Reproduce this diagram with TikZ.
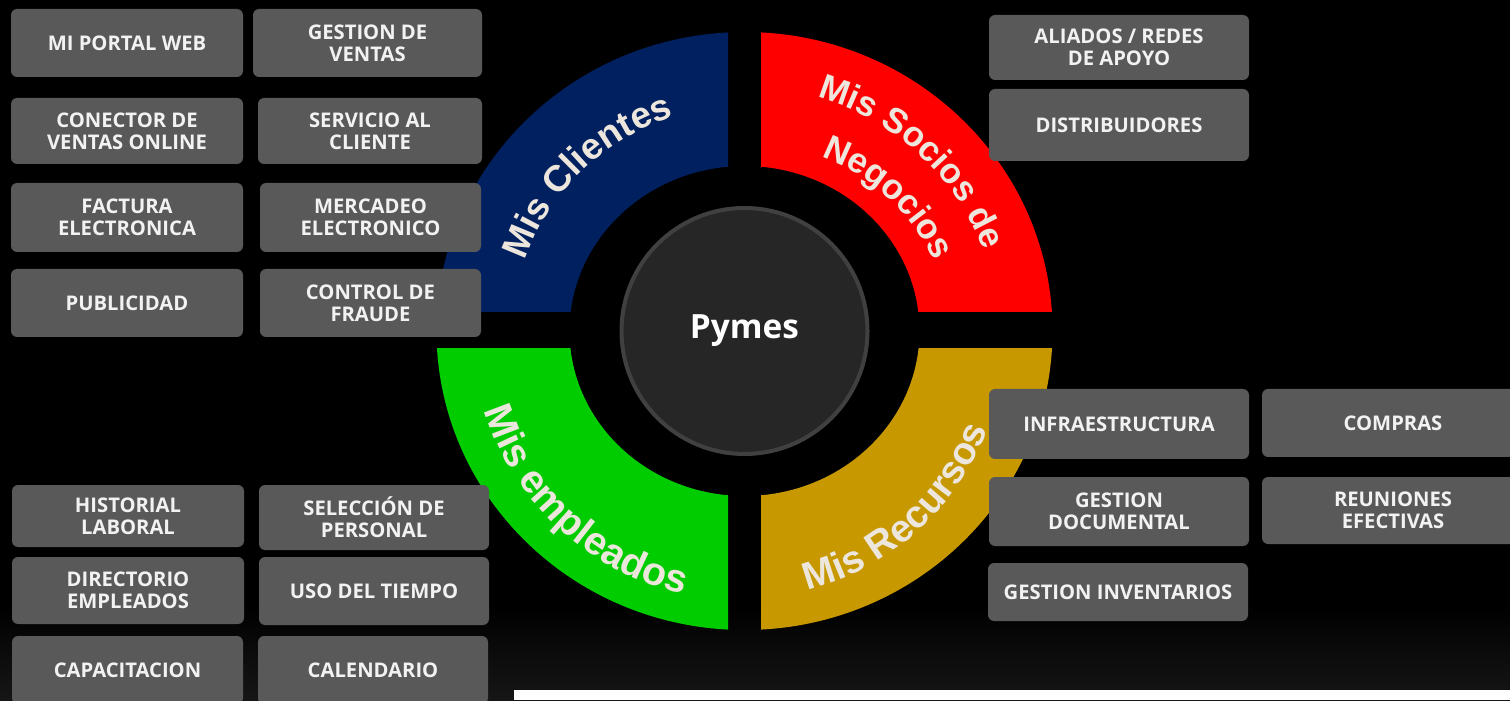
\documentclass[tikz,border=0pt]{standalone}
\usepackage{fontspec}
\setmainfont{Open Sans}
\newfontfamily\ringfam{Liberation Sans}
\usetikzlibrary{decorations.text}

\definecolor{tileGray}{RGB}{89,89,89}
\definecolor{hubGray}{RGB}{38,38,38}
\definecolor{hubRim}{RGB}{64,64,64}
\definecolor{qBlue}{RGB}{0,32,96}
\definecolor{qRed}{RGB}{255,0,0}
\definecolor{qGreen}{RGB}{0,204,0}
\definecolor{qGold}{RGB}{200,152,0}
\definecolor{ringTxt}{RGB}{236,230,220}
\definecolor{bgLow}{RGB}{23,22,22}

\newcommand\ringfont[1]{\ringfam\bfseries\fontsize{#1}{#1}\selectfont}

\tikzstyle{tile}=[rounded corners=3.5pt,fill=tileGray,text=white!95!black,inner sep=0pt,align=center,font=\bfseries\fontsize{11.5}{12.7}\selectfont]
\tikzstyle{hub}=[circle,fill=hubGray,draw=hubRim,line width=2.3pt,minimum size=4.92cm,text=white,font=\bfseries\fontsize{19}{23}\selectfont]
\tikzstyle{rT}=[decorate,decoration={text along path,text align=center,text color=ringTxt}]
\tikzset{sz/.style 2 args={minimum width=#1*0.02cm,minimum height=#2*0.02cm}}

\begin{document}
\begin{tikzpicture}[x=0.02cm,y=0.02cm]
    \fill[black] (0,0) rectangle (1510,700);
    \shade[top color=black,bottom color=bgLow] (0,0) rectangle (1510,95);
    \fill[white] (514,0) rectangle (1510,10);
    \useasboundingbox (0,0) rectangle (1510,700);
    \coordinate (ring) at (744.5,369);

    % quarters of the ring
    \foreach \clr/\xa/\ya/\xb/\yb in {qBlue/0/388/728/700,qRed/761/388/1510/700,qGreen/0/0/728/351,qGold/761/0/1510/351}{
        \begin{scope}
            \clip (\xa,\ya) rectangle (\xb,\yb);
            \fill[\clr,even odd rule] (ring) ellipse[x radius=308,y radius=299] (ring) ellipse[x radius=175,y radius=165];
        \end{scope}
    }

    \path[rT,decoration={text={|\ringfont{21}|Mis Clientes}}] (ring) ++(180:231 and 225) arc[start angle=180,end angle=90,x radius=231,y radius=225];
    \path[rT,decoration={text={|\ringfont{20}|Mis Socios de}}] (ring) ++(91:253 and 244) arc[start angle=91,end angle=1,x radius=253,y radius=244];
    \path[rT,decoration={text={|\ringfont{20}|Negocios}}] (ring) ++(89:204 and 188) arc[start angle=89,end angle=-1,x radius=204,y radius=188];
    \path[rT,decoration={text={|\ringfont{22.5}|Mis empleados}}] (ring) ++(182:272 and 270) arc[start angle=182,end angle=272,x radius=272,y radius=270];
    \path[rT,decoration={text={|\ringfont{22}|Mis Recursos}}] (ring) ++(-94:262 and 267) arc[start angle=-94,end angle=-4,x radius=262,y radius=267];

    \draw (744.5,369) node[hub] (pymes) {Pymes};

    % clientes
    \draw (127,657) node[tile,sz={232}{68}] (portal) {MI PORTAL WEB};
    \draw (127,569) node[tile,sz={232}{66}] (conector) {CONECTOR DE\\VENTAS ONLINE};
    \draw (127,482.5) node[tile,sz={232}{69}] (factura) {FACTURA\\ELECTRONICA};
    \draw (127,397) node[tile,sz={232}{68}] (publicidad) {PUBLICIDAD};
    \draw (367.5,657) node[tile,sz={229}{68}] (ventas) {GESTION DE\\VENTAS};
    \draw (370,569) node[tile,sz={224}{66}] (servicio) {SERVICIO AL\\CLIENTE};
    \draw (370.5,482.5) node[tile,sz={221}{69}] (mercadeo) {MERCADEO\\ELECTRONICO};
    \draw (370.5,397) node[tile,sz={221}{68}] (fraude) {CONTROL DE\\FRAUDE};

    % socios
    \draw (1119,652.5) node[tile,sz={260}{65}] (aliados) {ALIADOS / REDES\\DE APOYO};
    \draw (1119,575) node[tile,sz={260}{72}] (distrib) {DISTRIBUIDORES};

    % empleados
    \draw (128,184) node[tile,sz={232}{62}] (historial) {HISTORIAL\\LABORAL};
    \draw (128,109.5) node[tile,sz={232}{67}] (directorio) {DIRECTORIO\\EMPLEADOS};
    \draw (127.5,30) node[tile,sz={231}{68}] (capacita) {CAPACITACION};
    \draw (374,182.5) node[tile,sz={230}{65}] (seleccion) {SELECCIÓN DE\\PERSONAL};
    \draw (374,109) node[tile,sz={230}{68}] (tiempo) {USO DEL TIEMPO};
    \draw (373,30) node[tile,sz={230}{68}] (calendario) {CALENDARIO};

    % recursos
    \draw (1119,276) node[tile,sz={260}{70}] (infra) {INFRAESTRUCTURA};
    \draw (1119,188.5) node[tile,sz={260}{69}] (documental) {GESTION\\DOCUMENTAL};
    \draw (1118,108) node[tile,sz={260}{58}] (inventario) {GESTION INVENTARIOS};
    \draw (1393,277) node[tile,sz={262}{68}] (compras) {COMPRAS};
    \draw (1393,189.5) node[tile,sz={262}{67}] (reuniones) {REUNIONES\\EFECTIVAS};
\end{tikzpicture}
\end{document}
